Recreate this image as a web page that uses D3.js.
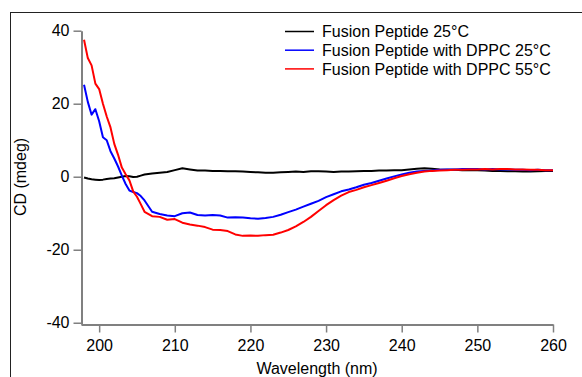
<!DOCTYPE html>
<html>
<head>
<meta charset="utf-8">
<script src="https://cdn.jsdelivr.net/npm/d3@7"></script>
<style>
  html, body { margin: 0; padding: 0; background: #fff; }
  svg { display: block; }
  text { font-family: "Liberation Sans", Arial, sans-serif; }
</style>
</head>
<body>
<svg id="chart" width="582" height="377"></svg>
<script>
// ---- data ----
const wavelengths = [198, 198.5, 199, 199.5, 200, 200.5, 201, 201.5, 202, 202.5, 203, 203.5, 204, 204.5, 205, 205.5, 206,
  207, 208, 209, 210, 211, 212, 213, 214, 215, 216, 217, 218, 219, 220, 221, 222, 223, 224, 225, 226, 227, 228, 229, 230,
  231, 232, 233, 234, 235, 236, 237, 238, 239, 240, 241, 242, 243, 244, 245, 246, 247, 248, 249, 250,
  251, 252, 253, 254, 255, 256, 257, 258, 259, 260];

const fp25 = [-0.2, -0.5, -0.7, -0.8, -0.9, -0.8, -0.6, -0.5, -0.4, -0.2, 0, 0.2, 0.1, -0.1, 0, 0.3, 0.6,
  0.9, 1.1, 1.3, 1.8, 2.3, 2.0, 1.7, 1.7, 1.6, 1.6, 1.5, 1.5, 1.4, 1.3, 1.2, 1.1, 1.1, 1.2, 1.3, 1.4, 1.3, 1.5, 1.5, 1.4,
  1.3, 1.4, 1.4, 1.5, 1.6, 1.6, 1.7, 1.7, 1.8, 1.8, 2.0, 2.2, 2.3, 2.2, 2.0, 1.9, 1.9, 1.8, 1.8, 1.8,
  1.7, 1.6, 1.6, 1.5, 1.5, 1.4, 1.4, 1.5, 1.6, 1.6];

const fpDppc25 = [25.2, 20.5, 17.0, 18.5, 15.2, 10.8, 10.0, 7.0, 5.0, 2.8, 0.3, -2.0, -3.8, -4.2, -4.5, -5.3, -6.5,
  -9.6, -10.2, -10.6, -10.8, -10.0, -9.8, -10.5, -10.6, -10.5, -10.6, -11.2, -11.1, -11.2, -11.4, -11.5, -11.3, -11.0, -10.4, -9.7, -9.0, -8.2, -7.4, -6.6, -5.6,
  -4.8, -4.0, -3.5, -2.9, -2.2, -1.7, -1.1, -0.5, 0.1, 0.6, 1.1, 1.4, 1.6, 1.7, 1.9, 2.0, 2.0, 2.1, 2.1, 2.1,
  2.0, 2.1, 2.0, 2.0, 1.9, 1.9, 1.8, 1.9, 1.8, 1.8];

const fpDppc55 = [37.5, 32.5, 30.5, 25.5, 24.0, 20.0, 16.5, 13.5, 9.0, 6.0, 2.5, 0.7, -1.0, -4.0, -5.5, -7.5, -9.6,
  -10.8, -11.0, -11.8, -11.6, -12.6, -13.1, -13.4, -13.8, -14.5, -14.6, -14.9, -15.8, -16.2, -16.1, -16.2, -16.0, -15.9, -15.3, -14.6, -13.6, -12.4, -11.0, -9.4, -7.8,
  -6.4, -5.2, -4.2, -3.6, -2.9, -2.3, -1.7, -1.1, -0.4, 0.2, 0.7, 1.1, 1.4, 1.6, 1.7, 1.8, 1.9, 1.9, 2.0, 2.0,
  2.1, 2.0, 2.1, 2.1, 2.0, 2.0, 1.9, 1.9, 1.8, 1.8];

const seriesNames = ["Fusion Peptide 25°C", "Fusion Peptide with DPPC 25°C", "Fusion Peptide with DPPC 55°C"];
const seriesColors = ["#000000", "#0000ff", "#ff0000"];
const xTicks = [200, 210, 220, 230, 240, 250, 260];
const yTicks = [-40, -20, 0, 20, 40];

// ---- chart ----
const svg = d3.select("#chart");

// outer frame
svg.append("rect")
  .attr("x", 10.5).attr("y", 12.5)
  .attr("width", 600).attr("height", 400)
  .attr("fill", "none").attr("stroke", "#222").attr("stroke-width", 1);

const x = d3.scaleLinear().domain([197.6, 260]).range([81, 553]);
const y = d3.scaleLinear().domain([-40.4, 40]).range([324.2, 30.7]);

const axisColor = "#808080";
const fmt = d => String(d);

const xAxis = svg.append("g")
  .attr("transform", "translate(0,324.5)")
  .call(d3.axisBottom(x).tickValues(xTicks).tickFormat(fmt).tickSize(8).tickSizeOuter(0).tickPadding(7));
const yAxis = svg.append("g")
  .attr("transform", "translate(81.5,0)")
  .call(d3.axisLeft(y).tickValues(yTicks).tickFormat(fmt).tickSize(8).tickSizeOuter(0).tickPadding(4));

[xAxis, yAxis].forEach(g => {
  g.select(".domain").attr("stroke", axisColor).attr("stroke-width", 2);
  g.selectAll(".tick line").attr("stroke", axisColor).attr("stroke-width", 1.5);
  g.selectAll(".tick text").attr("fill", "#000").style("font-size", "16px")
    .style("font-family", "'Liberation Sans', Arial, sans-serif");
});

// axis titles
svg.append("text")
  .attr("x", 317).attr("y", 374)
  .attr("text-anchor", "middle")
  .style("font-size", "16px").attr("fill", "#000")
  .text("Wavelength (nm)");
svg.append("text")
  .attr("transform", "translate(26,177) rotate(-90)")
  .attr("text-anchor", "middle")
  .style("font-size", "16px").attr("fill", "#000")
  .text("CD (mdeg)");

// lines
const allSeries = [fp25, fpDppc25, fpDppc55];
const line = d3.line()
  .x((d, i) => x(wavelengths[i]))
  .y(d => y(d));

// draw order: black, blue, red (red on top)
allSeries.forEach((vals, k) => {
  svg.append("path")
    .datum(vals)
    .attr("fill", "none")
    .attr("stroke", seriesColors[k])
    .attr("stroke-width", 2)
    .attr("stroke-linejoin", "round")
    .attr("d", line);
});

// legend
const legendY = [31.5, 50.2, 68.9];
seriesNames.forEach((name, k) => {
  svg.append("line")
    .attr("x1", 285).attr("x2", 314)
    .attr("y1", legendY[k]).attr("y2", legendY[k])
    .attr("stroke", seriesColors[k]).attr("stroke-width", 1.5);
  svg.append("text")
    .attr("x", 322).attr("y", legendY[k] + 5.6)
    .style("font-size", "16px").attr("fill", "#000")
    .text(name);
});
</script>
</body>
</html>
